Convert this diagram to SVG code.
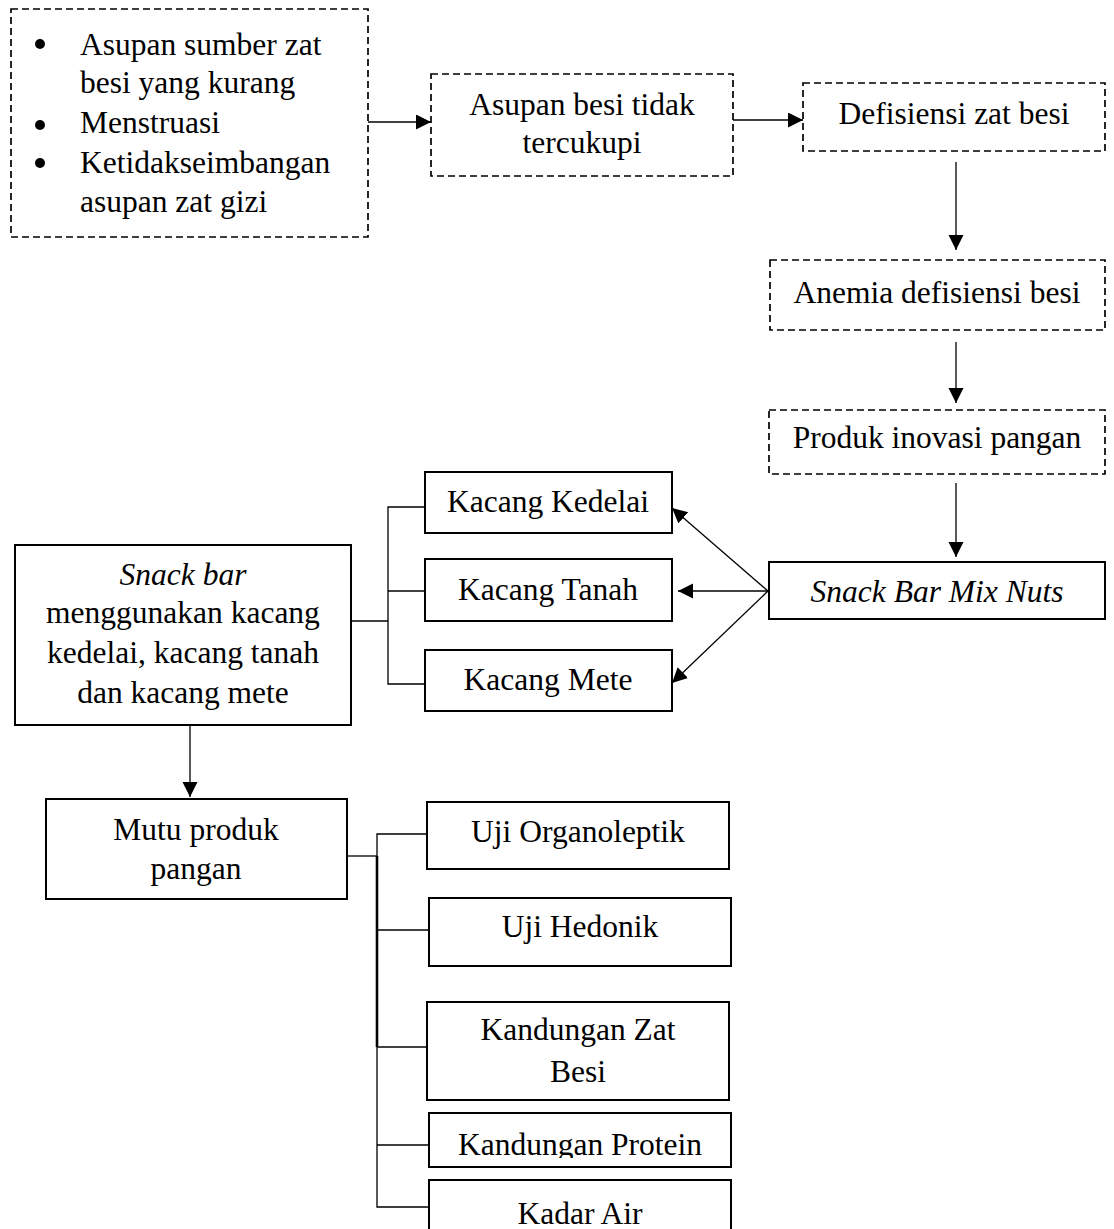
<svg xmlns="http://www.w3.org/2000/svg" width="1114" height="1229" viewBox="0 0 1114 1229">
<style>
text{font-family:"Liberation Serif","Times New Roman",serif;font-size:31.5px;fill:#000}
.c{text-anchor:middle}
.i{font-style:italic}
.d{fill:#fff;stroke:#000;stroke-width:1.7;stroke-dasharray:7 4}
.s{fill:#fff;stroke:#000;stroke-width:2}
.ln{fill:none;stroke:#000;stroke-width:1.3}
.ar{fill:none;stroke:#000;stroke-width:1.3;marker-end:url(#ah)}
</style>
<defs>
<marker id="ah" markerUnits="userSpaceOnUse" markerWidth="17" markerHeight="16" refX="15" refY="7.5" orient="auto">
<path d="M0,0 L15,7.5 L0,15 Z" fill="#000"/>
</marker>
<clipPath id="cp"><rect x="429" y="1113" width="302" height="45"/></clipPath>
</defs>
<g id="connectors">
<line class="ar" x1="368" y1="122" x2="431" y2="122"/>
<line class="ar" x1="733" y1="120" x2="803" y2="120"/>
<line class="ar" x1="956" y1="162" x2="956" y2="250"/>
<line class="ar" x1="956" y1="342" x2="956" y2="403"/>
<line class="ar" x1="956" y1="483" x2="956" y2="557"/>
<line class="ar" x1="768" y1="591" x2="672" y2="508"/>
<line class="ar" x1="768" y1="591" x2="678" y2="591"/>
<line class="ar" x1="768" y1="591" x2="672" y2="683"/>
<polyline class="ln" points="351,621 388,621"/>
<polyline class="ln" points="425,507 388,507 388,684 425,684"/>
<line class="ln" x1="388" y1="591" x2="425" y2="591"/>
<line class="ar" x1="190" y1="725" x2="190" y2="797"/>
<line class="ln" x1="347" y1="856" x2="377" y2="856"/>
<line fill="none" stroke="#000" stroke-width="2.6" x1="377" y1="856" x2="377" y2="1047"/>
<polyline class="ln" points="427,834 377,834 377,1207 429,1207"/>
<line class="ln" x1="377" y1="930" x2="429" y2="930"/>
<line class="ln" x1="377" y1="1047" x2="427" y2="1047"/>
<line class="ln" x1="377" y1="1145" x2="429" y2="1145"/>
</g>
<g id="n-penyebab">
<rect class="d" x="11" y="9" width="357" height="228"/>
<circle cx="40" cy="44" r="5"/>
<circle cx="40" cy="125" r="5"/>
<circle cx="40" cy="163" r="5"/>
<text x="80" y="55">Asupan sumber zat</text>
<text x="80" y="93">besi yang kurang</text>
<text x="80" y="133">Menstruasi</text>
<text x="80" y="173">Ketidakseimbangan</text>
<text x="80" y="212">asupan zat gizi</text>
</g>
<g id="n-asupan">
<rect class="d" x="431" y="74" width="302" height="102"/>
<text class="c" x="582" y="115">Asupan besi tidak</text>
<text class="c" x="582" y="153">tercukupi</text>
</g>
<g id="n-defisiensi">
<rect class="d" x="803" y="83" width="302" height="68"/>
<text class="c" x="954" y="124">Defisiensi zat besi</text>
</g>
<g id="n-anemia">
<rect class="d" x="770" y="260" width="335" height="70"/>
<text class="c" x="937" y="303">Anemia defisiensi besi</text>
</g>
<g id="n-produk">
<rect class="d" x="769" y="410" width="336" height="64"/>
<text class="c" x="937" y="448">Produk inovasi pangan</text>
</g>
<g id="n-mixnuts">
<rect class="s" x="769" y="562" width="336" height="57"/>
<text class="c i" x="937" y="602">Snack Bar Mix Nuts</text>
</g>
<g id="n-kedelai">
<rect class="s" x="425" y="472" width="247" height="61"/>
<text class="c" x="548" y="512">Kacang Kedelai</text>
</g>
<g id="n-tanah">
<rect class="s" x="425" y="559" width="247" height="62"/>
<text class="c" x="548" y="600">Kacang Tanah</text>
</g>
<g id="n-mete">
<rect class="s" x="425" y="650" width="247" height="61"/>
<text class="c" x="548" y="690">Kacang Mete</text>
</g>
<g id="n-snackbar">
<rect class="s" x="15" y="545" width="336" height="180"/>
<text class="c i" x="183" y="585">Snack bar</text>
<text class="c" x="183" y="623">menggunakan kacang</text>
<text class="c" x="183" y="663">kedelai, kacang tanah</text>
<text class="c" x="183" y="703">dan kacang mete</text>
</g>
<g id="n-mutu">
<rect class="s" x="46" y="799" width="301" height="100"/>
<text class="c" x="196" y="840">Mutu produk</text>
<text class="c" x="196" y="879">pangan</text>
</g>
<g id="n-organoleptik">
<rect class="s" x="427" y="802" width="302" height="67"/>
<text class="c" x="578" y="842">Uji Organoleptik</text>
</g>
<g id="n-hedonik">
<rect class="s" x="429" y="898" width="302" height="68"/>
<text class="c" x="580" y="937">Uji Hedonik</text>
</g>
<g id="n-zatbesi">
<rect class="s" x="427" y="1002" width="302" height="98"/>
<text class="c" x="578" y="1040">Kandungan Zat</text>
<text class="c" x="578" y="1082">Besi</text>
</g>
<g id="n-protein">
<rect class="s" x="429" y="1113" width="302" height="54"/>
<text class="c" x="580" y="1155" clip-path="url(#cp)">Kandungan Protein</text>
</g>
<g id="n-air">
<rect class="s" x="429" y="1180" width="302" height="70"/>
<text class="c" x="580" y="1224">Kadar Air</text>
</g>
</svg>
